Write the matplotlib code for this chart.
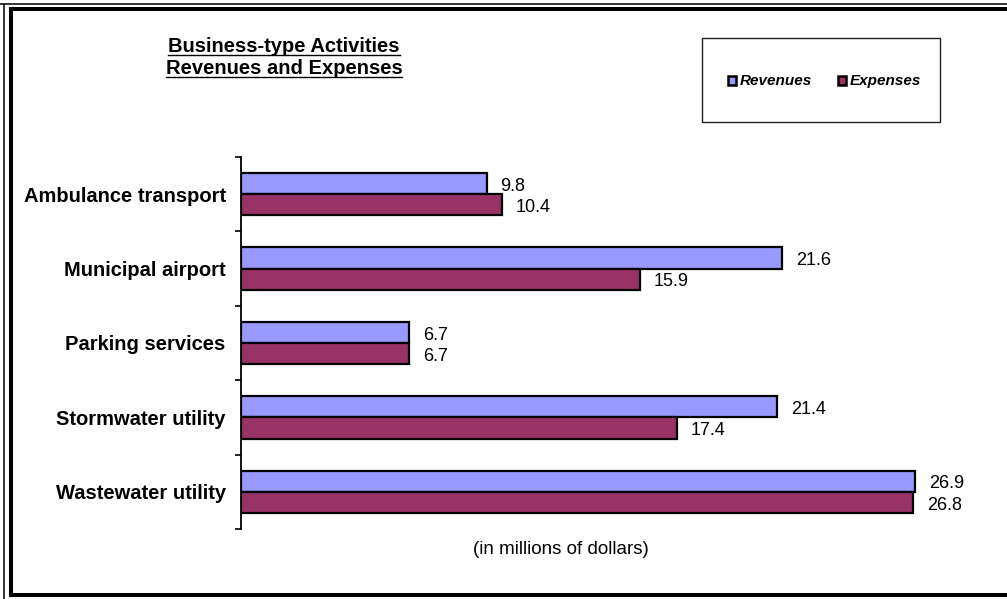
import matplotlib
matplotlib.use('Agg')
import matplotlib.pyplot as plt
from matplotlib.lines import Line2D
from matplotlib.patches import Rectangle
import numpy as np

plt.rcParams['font.family'] = ['Liberation Sans', 'DejaVu Sans']

# data
categories = ['Ambulance transport', 'Municipal airport', 'Parking services',
              'Stormwater utility', 'Wastewater utility']
revenues   = [9.8, 21.6, 6.7, 21.4, 26.9]
expenses   = [10.4, 15.9, 6.7, 17.4, 26.8]
series     = ['Revenues', 'Expenses']
colors     = ['#9999FF', '#993366']

W, H = 1007, 599
def fx(x): return x / W
def fy(y): return 1 - y / H

fig = plt.figure(figsize=(W / 100, H / 100), dpi=100)
fig.patch.set_facecolor('white')

# plot area
ax = fig.add_axes((fx(241), fy(529), fx(993) - fx(241), fy(157) - fy(529)))
pos = np.arange(len(categories))
h = 0.285
ax.barh(pos - h / 2, revenues, height=h, color=colors[0], edgecolor='black', linewidth=1.6)
ax.barh(pos + h / 2, expenses, height=h, color=colors[1], edgecolor='black', linewidth=1.6)
ax.set_xlim(0, 30)
ax.set_ylim(len(categories) - 0.5, -0.5)

for i in range(len(categories)):
    ax.annotate(f'{revenues[i]:.1f}', (revenues[i], pos[i] - h / 2), xytext=(10, -2),
                textcoords='offset points', va='center', ha='left', fontsize=13)
    ax.annotate(f'{expenses[i]:.1f}', (expenses[i], pos[i] + h / 2), xytext=(10, -2),
                textcoords='offset points', va='center', ha='left', fontsize=13)

ax.set_yticks(pos, categories, fontsize=14.5, fontweight='bold')
ax.set_yticks(np.arange(-0.5, len(categories)), minor=True)
ax.tick_params(axis='y', which='major', length=0, pad=11)
ax.tick_params(axis='y', which='minor', length=4, width=1.2, direction='out')
ax.set_xticks([])
for s in ['top', 'right', 'bottom']:
    ax.spines[s].set_visible(False)
ax.spines['left'].set_linewidth(1.3)

fig.text(fx(561), fy(549), '(in millions of dollars)', ha='center', va='center', fontsize=13.5)

# title with underline
t1 = fig.text(fx(284), fy(47), 'Business-type Activities', ha='center', va='center',
              fontsize=14.5, fontweight='bold')
t2 = fig.text(fx(284), fy(69), 'Revenues and Expenses', ha='center', va='center',
              fontsize=14.5, fontweight='bold')

# legend box drawn by hand
fig.add_artist(Rectangle((fx(702), fy(122)), fx(940) - fx(702), fy(38) - fy(122),
                         transform=fig.transFigure, facecolor='white', edgecolor='#222222',
                         linewidth=1.0))
for name, col, mx in zip(series, colors, [728, 838]):
    fig.add_artist(Rectangle((fx(mx), fy(85)), fx(8), 9 / H, transform=fig.transFigure,
                             facecolor=col, edgecolor='black', linewidth=1.8))
    fig.text(fx(mx + 12), fy(81), name, ha='left', va='center', fontsize=11,
             fontweight='bold', fontstyle='italic')

# double border, cropped on right and bottom
def line(x0, y0, x1, y1, lw):
    fig.add_artist(Line2D([fx(x0), fx(x1)], [fy(y0), fy(y1)], transform=fig.transFigure,
                          color='black', linewidth=lw, solid_capstyle='projecting'))
line(0, 3.5, W, 3.5, 1.1)
line(4, 3.5, 4, H, 1.1)
line(11, 8.7, W, 8.7, 2.9)
line(11, 8.7, 11, 595, 2.9)
line(11, 595, W, 595, 2.9)

fig.canvas.draw()
r = fig.canvas.get_renderer()
for t in (t1, t2):
    bb = t.get_window_extent(r)
    yb = bb.y0 + 2
    fig.add_artist(Line2D([bb.x0 / W, bb.x1 / W], [yb / H, yb / H], transform=fig.transFigure,
                          color='black', linewidth=1.0))

fig.savefig('out.png', dpi=100)
